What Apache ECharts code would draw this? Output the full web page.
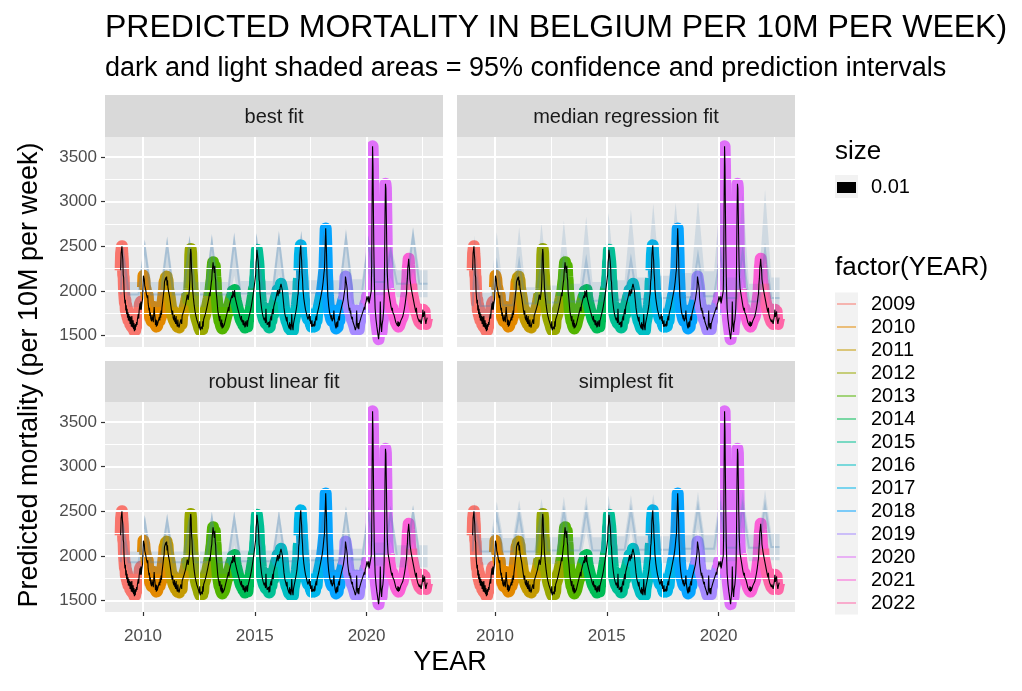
<!DOCTYPE html>
<html><head><meta charset="utf-8">
<script src="https://cdn.jsdelivr.net/npm/echarts@6/dist/echarts.min.js"></script>
<style>html,body{margin:0;padding:0;background:#fff}#c{width:1022px;height:691px}</style>
</head><body><div id="c"></div>
<script>
// ---------- DATA ----------
const years = [2009,2010,2011,2012,2013,2014,2015,2016,2017,2018,2019,2020,2021,2022];
const yearColors = ['#F8766D','#E38900','#C49A00','#99A800','#53B400','#00BC56','#00C094','#00BFC4','#00B6EB','#06A4FF','#A58AFF','#DF70F8','#FB61D7','#FF66A8'];
const panelNames = ['best fit','median regression fit','robust linear fit','simplest fit'];
const xTicks = [2010, 2015, 2020];
const xMinor = [2012.5, 2017.5, 2022.5];
const yTicks = [1500, 2000, 2500, 3000, 3500];
const yMinor = [1750, 2250, 2750, 3250];

// observed weekly mortality per 10M (one array per year, week 1..52)
const obs2009 = [2230,2420,2460,2500,2410,2350,2180,2150,1990,1980,1860,1900,1780,1840,1740,1800,1700,1760,1670,1740,1660,1720,1630,1710,1640,1600,1720,1620,1590,1670,1570,1640,1550,1620,1560,1630,1600,1650,1620,1680,1660,1740,1690,1780,1760,1860,1790,1880,1790,1850,1870,1910];
const obs2010 = [2040,2170,2160,2130,2060,2070,2020,2040,1960,1970,1920,1950,1860,1880,1780,1810,1720,1760,1690,1710,1660,1730,1670,1710,1650,1740,1820,1740,1700,1620,1680,1600,1670,1610,1630,1590,1670,1650,1710,1670,1750,1700,1780,1730,1810,1800,1890,1880,1980,2010,2100,2080];
const obs2011 = [2090,2150,2120,2160,2060,2120,2040,2060,1980,2000,1930,1920,1860,1870,1790,1800,1730,1780,1700,1720,1670,1730,1650,1700,1630,1720,1640,1660,1600,1680,1620,1630,1590,1620,1640,1600,1680,1660,1630,1720,1700,1710,1720,1780,1760,1770,1780,1850,1840,1900,1900,1960];
const obs2012 = [1980,1900,1930,1920,2020,2130,2400,2470,2420,2230,2170,2040,2020,1930,1920,1840,1840,1770,1780,1720,1740,1680,1700,1670,1680,1620,1640,1580,1660,1560,1580,1580,1600,1600,1570,1660,1600,1680,1660,1670,1680,1740,1720,1780,1780,1800,1800,1870,1860,1920,1920,1980];
const obs2013 = [1940,2010,2020,2100,2130,2220,2240,2320,2270,2270,2200,2280,2160,2120,2000,1980,1900,1880,1780,1780,1720,1740,1660,1720,1640,1660,1600,1680,1580,1640,1590,1600,1570,1620,1620,1640,1640,1700,1680,1740,1720,1780,1760,1820,1770,1840,1820,1880,1860,1920,1900,1950];
const obs2014 = [1920,2000,1980,1990,1930,2010,1940,1950,1890,1910,1850,1870,1810,1830,1770,1790,1740,1760,1700,1720,1670,1720,1650,1680,1660,1620,1670,1610,1640,1590,1660,1600,1620,1610,1670,1600,1660,1640,1700,1680,1740,1720,1780,1770,1830,1820,1890,1880,1950,1950,2020,2030];
const obs2015 = [2030,2140,2180,2320,2360,2460,2480,2470,2330,2260,2130,2100,1990,1980,1880,1880,1800,1810,1740,1760,1700,1720,1670,1700,1680,1640,1800,1680,1670,1620,1640,1630,1650,1590,1660,1600,1680,1660,1720,1670,1740,1730,1800,1740,1820,1800,1860,1840,1900,1880,1940,1920];
const obs2016 = [1940,2010,1940,1960,1950,2020,1970,2040,2030,2080,2060,2080,2010,2000,1910,1900,1810,1810,1740,1760,1700,1720,1660,1710,1640,1660,1640,1640,1580,1650,1570,1630,1560,1620,1740,1620,1620,1560,1630,1620,1680,1670,1730,1720,1780,1770,1840,1840,1940,1970,2100,2140];
const obs2017 = [2230,2400,2460,2510,2400,2340,2200,2140,2020,2000,1920,1920,1850,1860,1790,1810,1750,1770,1710,1730,1680,1700,1670,1740,1660,1720,1630,1660,1600,1670,1600,1620,1610,1630,1600,1660,1610,1680,1660,1720,1670,1740,1720,1780,1760,1820,1800,1870,1860,1920,1910,1970];
const obs2018 = [1950,2020,2020,2100,2100,2200,2240,2400,2540,2700,2560,2400,2180,2080,1940,1920,1830,1830,1760,1780,1720,1740,1680,1730,1660,1680,1680,1700,1780,1700,1680,1620,1640,1580,1650,1590,1660,1600,1680,1660,1720,1670,1740,1720,1780,1760,1820,1800,1860,1840,1900,1880];
const obs2019 = [1900,2000,2040,2160,2170,2160,2060,2020,1920,1920,1840,1850,1780,1810,1750,1780,1720,1740,1680,1710,1660,1680,1650,1660,1600,1620,1560,1580,1600,1780,1640,1640,1580,1640,1570,1630,1620,1650,1640,1700,1680,1710,1700,1760,1740,1770,1760,1820,1790,1850,1830,1880];
const obs2020 = [1860,1940,1940,1960,1880,1940,1860,1880,1870,1870,1860,2000,2300,3050,3620,3400,2900,2450,2150,1950,1800,1780,1680,1670,1600,1600,1530,1520,1460,1510,1500,1620,1880,1680,1600,1540,1620,1600,1680,1690,1800,1940,2350,2850,3200,3150,2850,2500,2230,2120,2030,2040];
const obs2021 = [2020,1940,1960,1880,1900,1820,1840,1780,1810,1760,1770,1770,1730,1740,1690,1700,1650,1670,1630,1650,1610,1660,1600,1650,1610,1620,1630,1610,1670,1670,1690,1670,1710,1710,1750,1750,1800,1810,1860,1870,1940,1970,2080,2140,2260,2300,2360,2290,2240,2130,2120,2060];
const obs2022 = [2080,2000,2010,1990,1980,1900,1920,1850,1860,1800,1820,1760,1810,1740,1760,1700,1720,1690,1700,1650,1680,1660,1670,1630,1660,1660,1720,1790,1710,1700,1690,1770,1690,1670,1630,1660,1650,1700,1700];

// prediction ribbons: winter peak (hi/mid/lo) and summer level (hi/mid/lo) per year
const bestWHi  = [2560,2570,2606,2610,2624,2643,2640,2661,2662,2665,2680,2620,2520,2718];
const bestWMid = [2480,2490,2520,2530,2545,2560,2555,2575,2580,2580,2595,2540,2440,2620];
const bestWLo  = [2150,2150,2160,2160,2170,2170,2170,2180,2180,2180,2190,2200,2150,2220];
const bestSHi  = [2100,2100,2100,2100,2100,2110,2110,2110,2120,2120,2130,2250,2230,2230];
const bestSMid = [1960,1960,1960,1960,1960,1970,1970,1970,1980,1980,1990,2100,2080,2080];
const bestSLo  = [1820,1820,1820,1820,1820,1830,1830,1830,1840,1840,1850,1950,1930,1930];

const medWHi  = [2620,2658,2714,2759,2789,2834,2871,2908,2976,2990,3020,3050,3088,3133];
const medWMid = [2300,2300,2320,2330,2340,2340,2350,2350,2370,2380,2396,2420,2440,2452];
const medWLo  = [2050,2050,2060,2070,2080,2080,2090,2090,2100,2110,2120,2130,2140,2150];
const medSHi  = [1980,2000,2040,2060,2080,2100,2120,2150,2170,2200,2220,2150,2080,2150];
const medSMid = [1830,1840,1860,1870,1880,1890,1900,1910,1920,1930,1940,1920,1880,1920];
const medSLo  = [1700,1700,1710,1720,1720,1730,1730,1740,1740,1750,1750,1740,1720,1740];

const robWHi  = [2450,2456,2470,2480,2490,2494,2500,2512,2520,2530,2550,2550,2560,2568];
const robWMid = [2380,2385,2400,2410,2420,2425,2430,2440,2450,2460,2475,2475,2485,2490];
const robWLo  = [2100,2100,2110,2110,2120,2120,2130,2130,2140,2140,2150,2150,2160,2160];
const robSHi  = [2050,2050,2050,2050,2050,2060,2060,2060,2070,2070,2080,2150,2120,2120];
const robSMid = [1930,1930,1930,1930,1930,1940,1940,1940,1950,1950,1960,2020,2000,2000];
const robSLo  = [1800,1800,1800,1800,1800,1810,1810,1810,1820,1820,1830,1890,1870,1870];

const simWHi  = [2600,2606,2624,2640,2662,2670,2675,2681,2690,2700,2718,2720,2730,2737];
const simWMid = [2450,2455,2470,2480,2500,2505,2510,2515,2525,2535,2550,2550,2560,2565];
const simWLo  = [2250,2250,2260,2270,2280,2280,2290,2290,2300,2300,2310,2310,2320,2320];
const simSHi  = [2200,2200,2200,2210,2210,2210,2220,2220,2220,2230,2230,2240,2240,2250];
const simSMid = [2050,2050,2050,2060,2060,2060,2070,2070,2070,2080,2080,2090,2090,2100];
const simSLo  = [1900,1900,1900,1910,1910,1910,1920,1920,1920,1930,1930,1940,1940,1950];

// ---------- BUILD ----------
const obsByYear = [obs2009,obs2010,obs2011,obs2012,obs2013,obs2014,obs2015,obs2016,obs2017,obs2018,obs2019,obs2020,obs2021,obs2022];
const ribbons = [
  {whi:bestWHi,wmid:bestWMid,wlo:bestWLo,shi:bestSHi,smid:bestSMid,slo:bestSLo},
  {whi:medWHi,wmid:medWMid,wlo:medWLo,shi:medSHi,smid:medSMid,slo:medSLo},
  {whi:robWHi,wmid:robWMid,wlo:robWLo,shi:robSHi,smid:robSMid,slo:robSLo},
  {whi:simWHi,wmid:simWMid,wlo:simWLo,shi:simSHi,smid:simSMid,slo:simSLo}
];
const weekX = (y, w) => y + w / 52;
const yearData = obsByYear.map((arr, i) => arr.map((v, w) => [weekX(years[i], w), v]));
const allObs = [].concat(...yearData);
const dataEnd = allObs[allObs.length - 1][0];

const FONT = "'Liberation Sans', Arial, Helvetica, sans-serif";
const layout = [{left:105, top:137}, {left:457, top:137}, {left:105, top:402}, {left:457, top:402}];
const PW = 338, PH = 210;
const grids = [], xAxes = [], yAxes = [], series = [], graphics = [];

function ribbonSeries(p, R) {
  const nx = [], hi = [], mid = [], lo = [];
  years.forEach((y, i) => {
    if (i === 0) { nx.push(y); hi.push(R.shi[0]); mid.push(R.smid[0]); lo.push(R.slo[0]); }
    else { nx.push(y - 0.2); hi.push(R.shi[i-1]); mid.push(R.smid[i-1]); lo.push(R.slo[i-1]); }
    nx.push(y + 0.08); hi.push(R.whi[i]); mid.push(R.wmid[i]); lo.push(R.wlo[i]);
    nx.push(y + 0.36); hi.push(R.shi[i]); mid.push(R.smid[i]); lo.push(R.slo[i]);
  });
  nx.push(dataEnd); hi.push(R.shi[13]); mid.push(R.smid[13]); lo.push(R.slo[13]);
  return {
    type: 'custom', xAxisIndex: p, yAxisIndex: p, z: 4, silent: true, clip: true,
    data: [[2015, 2000]],
    renderItem: (params, api) => {
      const up = nx.map((x, k) => api.coord([x, hi[k]]));
      const dn = nx.map((x, k) => api.coord([x, lo[k]])).reverse();
      const md = nx.map((x, k) => api.coord([x, mid[k]]));
      return { type: 'group', children: [
        { type: 'polygon', shape: { points: up.concat(dn) }, style: { fill: 'rgba(70,130,180,0.17)' } },
        { type: 'polyline', shape: { points: md }, style: { stroke: 'rgba(70,130,180,0.28)', lineWidth: 2, fill: null } }
      ]};
    }
  };
}

panelNames.forEach((name, p) => {
  const L = layout[p];
  const isLeft = p % 2 === 0, isBottom = p >= 2;
  grids.push({ left: L.left, top: L.top, width: PW, height: PH, show: true, backgroundColor: '#EBEBEB', borderWidth: 0, containLabel: false });
  xAxes.push({ type: 'value', gridIndex: p, min: 2008.3, max: 2023.42, axisLine: { show: false }, splitLine: { show: false },
    axisTick: { show: isBottom, customValues: xTicks, length: 4, lineStyle: { color: '#333333', width: 1.2 } },
    axisLabel: { show: isBottom, customValues: xTicks, formatter: v => String(v), color: '#4D4D4D', fontSize: 17, fontFamily: FONT, margin: 16 } });
  yAxes.push({ type: 'value', gridIndex: p, min: 1372, max: 3723, axisLine: { show: false }, splitLine: { show: false },
    axisTick: { show: isLeft, customValues: yTicks, length: 4, lineStyle: { color: '#333333', width: 1.2 } },
    axisLabel: { show: isLeft, customValues: yTicks, formatter: v => String(v), color: '#4D4D4D', fontSize: 17, fontFamily: FONT, margin: 8 } });
  const ml = [];
  xMinor.forEach(v => ml.push({ xAxis: v, lineStyle: { color: '#FFFFFF', width: 1, type: 'solid' } }));
  yMinor.forEach(v => ml.push({ yAxis: v, lineStyle: { color: '#FFFFFF', width: 1, type: 'solid' } }));
  xTicks.forEach(v => ml.push({ xAxis: v, lineStyle: { color: '#FFFFFF', width: 2, type: 'solid' } }));
  yTicks.forEach(v => ml.push({ yAxis: v, lineStyle: { color: '#FFFFFF', width: 2, type: 'solid' } }));
  series.push({ type: 'line', xAxisIndex: p, yAxisIndex: p, data: [[2015, 2000]], showSymbol: false, symbolSize: 0,
    lineStyle: { opacity: 0 }, silent: true, z: 1,
    markLine: { silent: true, symbol: ['none', 'none'], label: { show: false }, animation: false, emphasis: { disabled: true }, data: ml } });
  years.forEach((y, i) => {
    series.push({ type: 'line', xAxisIndex: p, yAxisIndex: p, data: yearData[i], showSymbol: false, silent: true, z: 3,
      lineStyle: { color: yearColors[i], width: 12, cap: 'butt', join: 'round' }, emphasis: { disabled: true } });
  });
  series.push(ribbonSeries(p, ribbons[p]));
  series.push({ type: 'line', xAxisIndex: p, yAxisIndex: p, data: allObs, showSymbol: false, silent: true, z: 5,
    lineStyle: { color: '#000000', width: 1.1 }, emphasis: { disabled: true } });
  // strip
  const sy = isBottom ? 361 : 95;
  graphics.push({ type: 'rect', shape: { x: L.left, y: sy, width: PW, height: L.top - sy }, style: { fill: '#D9D9D9' }, silent: true });
  graphics.push({ type: 'text', x: L.left + PW / 2, y: sy + (L.top - sy) / 2 + 1, style: { text: name, fontSize: 20, fontFamily: FONT, fill: '#1A1A1A', align: 'center', verticalAlign: 'middle' }, silent: true });
});

// titles
graphics.push({ type: 'text', x: 105, y: 28, style: { text: 'PREDICTED MORTALITY IN BELGIUM PER 10M PER WEEK)', fontSize: 32, fontFamily: FONT, fill: '#000', align: 'left', verticalAlign: 'middle' } });
graphics.push({ type: 'text', x: 105, y: 69, style: { text: 'dark and light shaded areas = 95% confidence and prediction intervals', fontSize: 27, fontFamily: FONT, fill: '#000', align: 'left', verticalAlign: 'middle' } });
graphics.push({ type: 'text', x: 450, y: 663, style: { text: 'YEAR', fontSize: 27, fontFamily: FONT, fill: '#000', align: 'center', verticalAlign: 'middle' } });
graphics.push({ type: 'text', x: 30, y: 375, rotation: Math.PI / 2, style: { text: 'Predicted mortality (per 10M per week)', fontSize: 27, fontFamily: FONT, fill: '#000', align: 'center', verticalAlign: 'middle' } });

// legends
graphics.push({ type: 'text', x: 835, y: 152, style: { text: 'size', fontSize: 26, fontFamily: FONT, fill: '#000', align: 'left', verticalAlign: 'middle' } });
graphics.push({ type: 'rect', shape: { x: 835, y: 175, width: 23, height: 23 }, style: { fill: '#F2F2F2' } });
graphics.push({ type: 'rect', shape: { x: 837, y: 182, width: 19, height: 11 }, style: { fill: '#000' } });
graphics.push({ type: 'text', x: 871, y: 187, style: { text: '0.01', fontSize: 20, fontFamily: FONT, fill: '#000', align: 'left', verticalAlign: 'middle' } });
graphics.push({ type: 'text', x: 835, y: 268, style: { text: 'factor(YEAR)', fontSize: 26, fontFamily: FONT, fill: '#000', align: 'left', verticalAlign: 'middle' } });
graphics.push({ type: 'rect', shape: { x: 835, y: 292.5, width: 23, height: 23 * years.length }, style: { fill: '#F2F2F2' } });
years.forEach((y, i) => {
  const cy = 304 + 23 * i;
  graphics.push({ type: 'line', shape: { x1: 837, y1: cy, x2: 856, y2: cy }, style: { stroke: yearColors[i], lineWidth: 1 } });
  graphics.push({ type: 'text', x: 871, y: cy, style: { text: String(y), fontSize: 20, fontFamily: FONT, fill: '#000', align: 'left', verticalAlign: 'middle' } });
});

const chart = echarts.init(document.getElementById('c'), null, { renderer: 'canvas' });
chart.setOption({
  animation: false,
  backgroundColor: '#FFFFFF',
  grid: grids, xAxis: xAxes, yAxis: yAxes, series: series,
  graphic: { elements: graphics }
});
</script>
</body></html>
